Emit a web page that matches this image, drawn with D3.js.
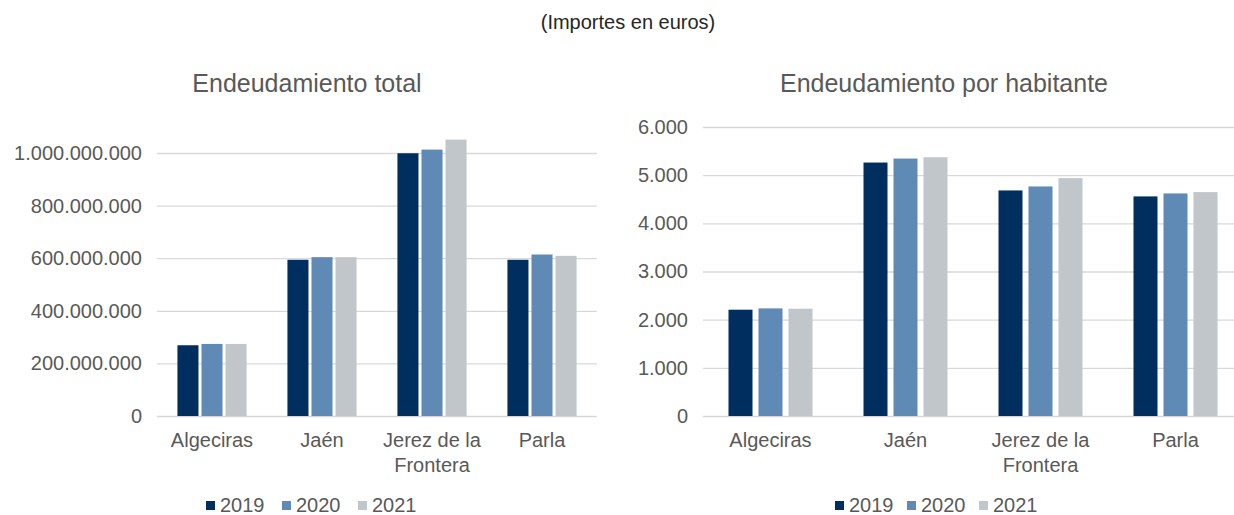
<!DOCTYPE html>
<html>
<head>
<meta charset="utf-8">
<script src="https://cdn.jsdelivr.net/npm/d3@7"></script>
<style>
  body { margin: 0; background: #fff; }
  svg text { font-family: "Liberation Sans", Arial, sans-serif; }
</style>
</head>
<body>
<div id="app"></div>
<script>
const cities = ['Algeciras', 'Jaén', 'Jerez de la Frontera', 'Parla']
const cityLines = [['Algeciras'], ['Jaén'], ['Jerez de la', 'Frontera'], ['Parla']]
const years = ['2019', '2020', '2021']
const colors = ['#002e5e', '#5f8ab5', '#c0c6ca']

// endeudamiento total (euros), one array per year
const total2019 = [269000000, 594000000, 999000000, 594000000]
const total2020 = [274000000, 604000000, 1013000000, 614000000]
const total2021 = [274000000, 604000000, 1051000000, 609000000]
const totalTicks = [0, 200000000, 400000000, 600000000, 800000000, 1000000000]

// endeudamiento por habitante (euros)
const hab2019 = [2207, 5262, 4683, 4559]
const hab2020 = [2234, 5345, 4766, 4621]
const hab2021 = [2228, 5372, 4938, 4648]
const habTicks = [0, 1000, 2000, 3000, 4000, 5000, 6000]

const width = 1234
const height = 515
const textColor = '#595959'

const fmt = d3.formatLocale({ decimal: ',', thousands: '.', grouping: [3], currency: ['', '€'] }).format(',d')

const svg = d3.select('#app')
  .append('svg')
  .attr('width', width)
  .attr('height', height)

svg.append('text')
  .attr('x', 628)
  .attr('y', 29)
  .attr('text-anchor', 'middle')
  .style('font-size', '20px')
  .attr('fill', '#262626')
  .text('(Importes en euros)')

const makeChart = opts => {
  const series = opts.series
  const g = svg.append('g')

  g.append('text')
    .attr('x', opts.titleX)
    .attr('y', 92)
    .attr('text-anchor', 'middle')
    .style('font-size', '25px')
    .attr('fill', textColor)
    .text(opts.title)

  const y = d3.scaleLinear()
    .domain([0, opts.max])
    .range([416, opts.top])

  const x0 = d3.scaleBand()
    .domain(cities)
    .range([opts.left, opts.right])

  const x1 = d3.scaleBand()
    .domain(years)
    .range([0, x0.bandwidth()])
    .paddingInner(opts.pin)
    .paddingOuter(opts.pout)

  // gridlines + labels
  const axisY = d3.axisLeft(y)
    .tickValues(opts.ticks)
    .tickSize(-(opts.right - opts.left))
    .tickPadding(15)
    .tickFormat(fmt)

  g.append('g')
    .attr('transform', `translate(${opts.left}, 0)`)
    .call(axisY)
    .call(a => a.select('.domain').remove())
    .call(a => a.selectAll('line').attr('stroke', '#d9d9d9').attr('stroke-width', 1.3))
    .call(a => a.selectAll('text')
      .attr('fill', textColor)
      .style('font-size', '20px')
      .style('font-family', '"Liberation Sans", Arial, sans-serif'))

  const groups = g.selectAll('.grp')
    .data(cities)
    .enter()
    .append('g')
    .attr('transform', d => `translate(${x0(d)}, 0)`)

  groups.selectAll('rect')
    .data((d, i) => years.map((yr, j) => ({ year: yr, value: series[j][i], color: colors[j] })))
    .enter()
    .append('rect')
    .attr('x', d => x1(d.year))
    .attr('width', x1.bandwidth())
    .attr('y', d => y(d.value))
    .attr('height', d => y(0) - y(d.value))
    .attr('fill', d => d.color)

  // category labels
  g.selectAll('.cat')
    .data(cityLines)
    .enter()
    .append('text')
    .attr('text-anchor', 'middle')
    .attr('fill', textColor)
    .style('font-size', '20px')
    .each(function (lines, i) {
      const t = d3.select(this)
      lines.forEach((l, k) => {
        t.append('tspan')
          .attr('x', x0(cities[i]) + x0.bandwidth() / 2)
          .attr('y', 447 + k * 25)
          .text(l)
      })
    })

  // legend
  const leg = g.append('g')
    .attr('transform', `translate(${opts.legendX}, 505)`)
  years.forEach((yr, j) => {
    leg.append('rect')
      .attr('x', j * opts.legendStep)
      .attr('y', -4)
      .attr('width', 9)
      .attr('height', 9)
      .attr('fill', colors[j])
    leg.append('text')
      .attr('x', j * opts.legendStep + 14)
      .attr('y', 7)
      .attr('fill', textColor)
      .style('font-size', '20px')
      .text(yr)
  })
}

makeChart({
  title: 'Endeudamiento total',
  titleX: 307,
  series: [total2019, total2020, total2021],
  ticks: totalTicks,
  max: 1000000000,
  top: 153,
  left: 157,
  right: 597,
  pin: 0.125,
  pout: 0.85,
  legendX: 206,
  legendStep: 76
})

makeChart({
  title: 'Endeudamiento por habitante',
  titleX: 944,
  series: [hab2019, hab2020, hab2021],
  ticks: habTicks,
  max: 6000,
  top: 127,
  left: 703,
  right: 1243,
  pin: 0.2,
  pout: 0.85,
  legendX: 835,
  legendStep: 72
})
</script>
</body>
</html>
